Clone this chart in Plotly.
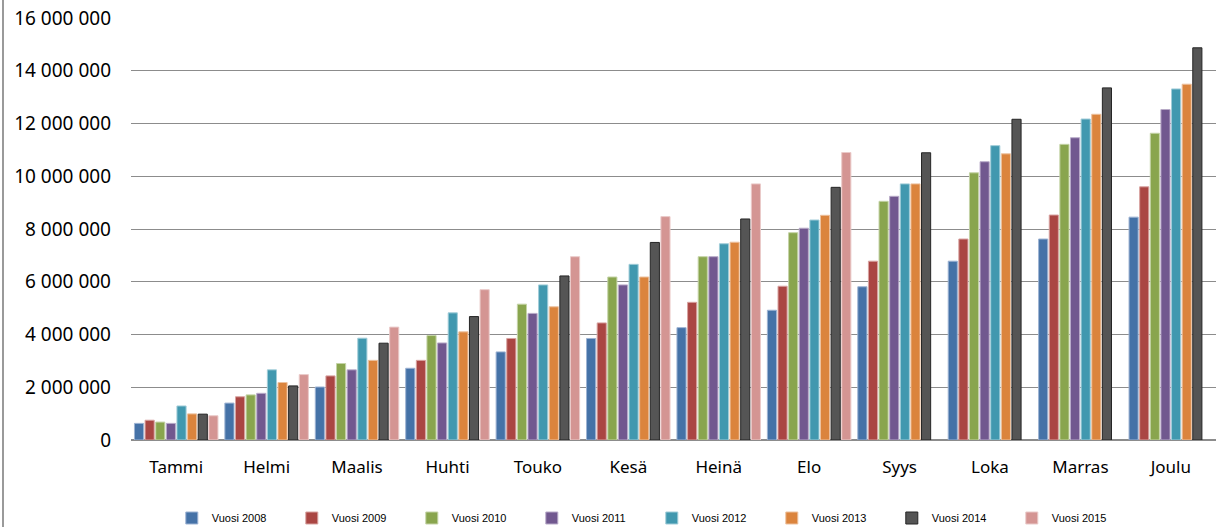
import plotly.graph_objects as go

months = ["Tammi", "Helmi", "Maalis", "Huhti", "Touko", "Kesä", "Heinä", "Elo", "Syys", "Loka", "Marras", "Joulu"]

v2008 = [630000, 1400000, 2010000, 2720000, 3340000, 3850000, 4260000, 4920000, 5810000, 6780000, 7620000, 8450000]
v2009 = [750000, 1640000, 2430000, 3020000, 3850000, 4440000, 5220000, 5830000, 6780000, 7620000, 8530000, 9600000]
v2010 = [680000, 1710000, 2900000, 3960000, 5150000, 6180000, 6950000, 7860000, 9050000, 10130000, 11210000, 11630000]
v2011 = [630000, 1770000, 2660000, 3680000, 4800000, 5880000, 6950000, 8030000, 9240000, 10550000, 11460000, 12530000]
v2012 = [1290000, 2660000, 3860000, 4820000, 5880000, 6660000, 7440000, 8340000, 9710000, 11160000, 12170000, 13310000]
v2013 = [990000, 2180000, 3020000, 4100000, 5050000, 6180000, 7500000, 8520000, 9710000, 10850000, 12350000, 13490000]
v2014 = [980000, 2050000, 3670000, 4680000, 6220000, 7490000, 8380000, 9580000, 10890000, 12160000, 13350000, 14870000]
v2015 = [920000, 2480000, 4280000, 5700000, 6950000, 8470000, 9710000, 10900000, None, None, None, None]

series_names = ["Vuosi 2008", "Vuosi 2009", "Vuosi 2010", "Vuosi 2011",
                "Vuosi 2012", "Vuosi 2013", "Vuosi 2014", "Vuosi 2015"]
series_values = [v2008, v2009, v2010, v2011, v2012, v2013, v2014, v2015]
colors = ["#4572A7", "#AA4643", "#89A54E", "#71588F", "#4198AF", "#DB843D", "#555555", "#D49593"]
edge_colors = ["#9DB3D3", "#D8A3A1", "#C4D3A6", "#B8AAC8", "#A0CCD8", "#EDC19E", "#262626", "#EACAC9"]

y_ticks = [0, 2000000, 4000000, 6000000, 8000000, 10000000, 12000000, 14000000, 16000000]

fig = go.Figure()
for name, vals, c, ec in zip(series_names, series_values, colors, edge_colors):
    fig.add_trace(go.Bar(
        x=months, y=vals, name=name,
        marker=dict(color=c, line=dict(color=ec, width=1)),
    ))

fig.update_layout(
    width=1220, height=527,
    margin=dict(l=131, r=4, t=18, b=87, autoexpand=False),
    paper_bgcolor="white", plot_bgcolor="white",
    barmode="group", bargap=0.06, bargroupgap=0.14,
    separators=", ",
    font=dict(family="Noto Sans, Open Sans, DejaVu Sans", color="#000000"),
    showlegend=True,
    legend=dict(
        orientation="h", x=0.480, xanchor="center",
        yref="container", y=9 / 527, yanchor="middle",
        font=dict(size=11, family="Liberation Sans Narrow, Liberation Sans, Arial"),
        entrywidth=75, entrywidthmode="pixels",
        itemwidth=30, traceorder="normal",
        bgcolor="rgba(0,0,0,0)",
    ),
    shapes=[dict(type="line", xref="paper", yref="paper",
                 x0=-128 / 1085, x1=-128 / 1085, y0=-0.3, y1=1.1,
                 line=dict(color="#9a9a9a", width=2))],
)

fig.update_xaxes(
    showgrid=False, showline=False, ticks="",
    tickfont=dict(size=17, family="Noto Sans, Open Sans"),
    ticklabelstandoff=15, automargin=False,
)
fig.update_yaxes(
    range=[0, 16000000], tickvals=y_ticks, tickformat=",d",
    showgrid=True, gridcolor="#8c8c8c", gridwidth=1,
    zeroline=True, zerolinecolor="#8c8c8c", zerolinewidth=1.5,
    showline=False, ticks="",
    tickfont=dict(size=19, family="Noto Sans, Open Sans"),
    ticklabelstandoff=19, automargin=False,
)

fig.write_html("out.html", config={"displayModeBar": False},
               post_script="document.body.style.margin='0';document.body.style.overflow='hidden';")
